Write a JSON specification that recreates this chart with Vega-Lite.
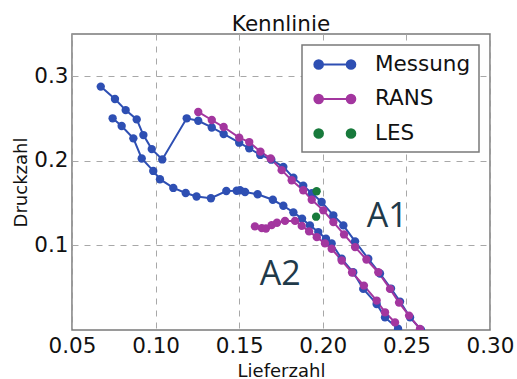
{
  "$schema": "https://vega.github.io/schema/vega-lite/v6.json",
  "width": 418,
  "height": 296,
  "autosize": "none",
  "padding": {"left": 72, "top": 34, "right": 27, "bottom": 49},
  "background": "white",
  "title": {"text": "Kennlinie", "fontSize": 21.5, "font": "DejaVu Sans", "fontWeight": "normal", "color": "#111111", "offset": 5, "dy": 23, "baseline": "alphabetic", "anchor": "middle", "frame": "group"},
  "datasets": {
    "curves": [
      {"s": "Messung", "c": "M1", "i": 1, "x": 0.0672, "y": 0.2878},
      {"s": "Messung", "c": "M1", "i": 2, "x": 0.0757, "y": 0.2732},
      {"s": "Messung", "c": "M1", "i": 3, "x": 0.0821, "y": 0.2600},
      {"s": "Messung", "c": "M1", "i": 4, "x": 0.0887, "y": 0.2490},
      {"s": "Messung", "c": "M1", "i": 5, "x": 0.0927, "y": 0.2305},
      {"s": "Messung", "c": "M1", "i": 6, "x": 0.0977, "y": 0.2139},
      {"s": "Messung", "c": "M1", "i": 7, "x": 0.1040, "y": 0.2017},
      {"s": "Messung", "c": "M1", "i": 8, "x": 0.1186, "y": 0.2503},
      {"s": "Messung", "c": "M1", "i": 9, "x": 0.1255, "y": 0.2474},
      {"s": "Messung", "c": "M1", "i": 10, "x": 0.1336, "y": 0.2395},
      {"s": "Messung", "c": "M1", "i": 11, "x": 0.1407, "y": 0.2318},
      {"s": "Messung", "c": "M1", "i": 12, "x": 0.1500, "y": 0.2215},
      {"s": "Messung", "c": "M1", "i": 13, "x": 0.1560, "y": 0.2149},
      {"s": "Messung", "c": "M1", "i": 14, "x": 0.1626, "y": 0.2070},
      {"s": "Messung", "c": "M1", "i": 15, "x": 0.1692, "y": 0.2014},
      {"s": "Messung", "c": "M1", "i": 16, "x": 0.1764, "y": 0.1929},
      {"s": "Messung", "c": "M1", "i": 17, "x": 0.1824, "y": 0.1800},
      {"s": "Messung", "c": "M1", "i": 18, "x": 0.1883, "y": 0.1706},
      {"s": "Messung", "c": "M1", "i": 19, "x": 0.1935, "y": 0.1617},
      {"s": "Messung", "c": "M1", "i": 20, "x": 0.1993, "y": 0.1514},
      {"s": "Messung", "c": "M1", "i": 21, "x": 0.2063, "y": 0.1356},
      {"s": "Messung", "c": "M1", "i": 22, "x": 0.2123, "y": 0.1237},
      {"s": "Messung", "c": "M1", "i": 23, "x": 0.2193, "y": 0.1048},
      {"s": "Messung", "c": "M1", "i": 24, "x": 0.2272, "y": 0.0842},
      {"s": "Messung", "c": "M1", "i": 25, "x": 0.2342, "y": 0.0668},
      {"s": "Messung", "c": "M1", "i": 26, "x": 0.2408, "y": 0.0490},
      {"s": "Messung", "c": "M1", "i": 27, "x": 0.2462, "y": 0.0336},
      {"s": "Messung", "c": "M1", "i": 28, "x": 0.2522, "y": 0.0149},
      {"s": "Messung", "c": "M1", "i": 29, "x": 0.2587, "y": 0.0004},
      {"s": "Messung", "c": "M2", "i": 1, "x": 0.0743, "y": 0.2503},
      {"s": "Messung", "c": "M2", "i": 2, "x": 0.0797, "y": 0.2412},
      {"s": "Messung", "c": "M2", "i": 3, "x": 0.0867, "y": 0.2266},
      {"s": "Messung", "c": "M2", "i": 4, "x": 0.0917, "y": 0.2028},
      {"s": "Messung", "c": "M2", "i": 5, "x": 0.0986, "y": 0.1881},
      {"s": "Messung", "c": "M2", "i": 6, "x": 0.1026, "y": 0.1783},
      {"s": "Messung", "c": "M2", "i": 7, "x": 0.1106, "y": 0.1680},
      {"s": "Messung", "c": "M2", "i": 8, "x": 0.1180, "y": 0.1620},
      {"s": "Messung", "c": "M2", "i": 9, "x": 0.1245, "y": 0.1578},
      {"s": "Messung", "c": "M2", "i": 10, "x": 0.1331, "y": 0.1558},
      {"s": "Messung", "c": "M2", "i": 11, "x": 0.1423, "y": 0.1643},
      {"s": "Messung", "c": "M2", "i": 12, "x": 0.1485, "y": 0.1646},
      {"s": "Messung", "c": "M2", "i": 13, "x": 0.1505, "y": 0.1652},
      {"s": "Messung", "c": "M2", "i": 14, "x": 0.1535, "y": 0.1632},
      {"s": "Messung", "c": "M2", "i": 15, "x": 0.1610, "y": 0.1605},
      {"s": "Messung", "c": "M2", "i": 16, "x": 0.1701, "y": 0.1540},
      {"s": "Messung", "c": "M2", "i": 17, "x": 0.1764, "y": 0.1469},
      {"s": "Messung", "c": "M2", "i": 18, "x": 0.1824, "y": 0.1391},
      {"s": "Messung", "c": "M2", "i": 19, "x": 0.1876, "y": 0.1317},
      {"s": "Messung", "c": "M2", "i": 20, "x": 0.1923, "y": 0.1237},
      {"s": "Messung", "c": "M2", "i": 21, "x": 0.1973, "y": 0.1158},
      {"s": "Messung", "c": "M2", "i": 22, "x": 0.2019, "y": 0.1080},
      {"s": "Messung", "c": "M2", "i": 23, "x": 0.2053, "y": 0.1024},
      {"s": "Messung", "c": "M2", "i": 24, "x": 0.2113, "y": 0.0842},
      {"s": "Messung", "c": "M2", "i": 25, "x": 0.2182, "y": 0.0683},
      {"s": "Messung", "c": "M2", "i": 26, "x": 0.2242, "y": 0.0486},
      {"s": "Messung", "c": "M2", "i": 27, "x": 0.2322, "y": 0.0308},
      {"s": "Messung", "c": "M2", "i": 28, "x": 0.2372, "y": 0.0149},
      {"s": "Messung", "c": "M2", "i": 29, "x": 0.2450, "y": 0.0015},
      {"s": "RANS", "c": "R1", "i": 1, "x": 0.1255, "y": 0.2578},
      {"s": "RANS", "c": "R1", "i": 2, "x": 0.1336, "y": 0.2483},
      {"s": "RANS", "c": "R1", "i": 3, "x": 0.1407, "y": 0.2400},
      {"s": "RANS", "c": "R1", "i": 4, "x": 0.1500, "y": 0.2275},
      {"s": "RANS", "c": "R1", "i": 5, "x": 0.1560, "y": 0.2222},
      {"s": "RANS", "c": "R1", "i": 6, "x": 0.1627, "y": 0.2109},
      {"s": "RANS", "c": "R1", "i": 7, "x": 0.1688, "y": 0.2028},
      {"s": "RANS", "c": "R1", "i": 8, "x": 0.1754, "y": 0.1890},
      {"s": "RANS", "c": "R1", "i": 9, "x": 0.1814, "y": 0.1771},
      {"s": "RANS", "c": "R1", "i": 10, "x": 0.1883, "y": 0.1652},
      {"s": "RANS", "c": "R1", "i": 11, "x": 0.1934, "y": 0.1540},
      {"s": "RANS", "c": "R1", "i": 12, "x": 0.2003, "y": 0.1415},
      {"s": "RANS", "c": "R1", "i": 13, "x": 0.2063, "y": 0.1276},
      {"s": "RANS", "c": "R1", "i": 14, "x": 0.2127, "y": 0.1130},
      {"s": "RANS", "c": "R1", "i": 15, "x": 0.2193, "y": 0.0980},
      {"s": "RANS", "c": "R1", "i": 16, "x": 0.2261, "y": 0.0834},
      {"s": "RANS", "c": "R1", "i": 17, "x": 0.2332, "y": 0.0683},
      {"s": "RANS", "c": "R1", "i": 18, "x": 0.2402, "y": 0.0486},
      {"s": "RANS", "c": "R1", "i": 19, "x": 0.2456, "y": 0.0324},
      {"s": "RANS", "c": "R1", "i": 20, "x": 0.2516, "y": 0.0170},
      {"s": "RANS", "c": "R1", "i": 21, "x": 0.2581, "y": 0.0012},
      {"s": "RANS", "c": "R2", "i": 1, "x": 0.1594, "y": 0.1225},
      {"s": "RANS", "c": "R2", "i": 2, "x": 0.1635, "y": 0.1205},
      {"s": "RANS", "c": "R2", "i": 3, "x": 0.1660, "y": 0.1200},
      {"s": "RANS", "c": "R2", "i": 4, "x": 0.1694, "y": 0.1240},
      {"s": "RANS", "c": "R2", "i": 5, "x": 0.1726, "y": 0.1268},
      {"s": "RANS", "c": "R2", "i": 6, "x": 0.1774, "y": 0.1290},
      {"s": "RANS", "c": "R2", "i": 7, "x": 0.1834, "y": 0.1290},
      {"s": "RANS", "c": "R2", "i": 8, "x": 0.1874, "y": 0.1231},
      {"s": "RANS", "c": "R2", "i": 9, "x": 0.1918, "y": 0.1166},
      {"s": "RANS", "c": "R2", "i": 10, "x": 0.1964, "y": 0.1098},
      {"s": "RANS", "c": "R2", "i": 11, "x": 0.2013, "y": 0.1024},
      {"s": "RANS", "c": "R2", "i": 12, "x": 0.2053, "y": 0.0961},
      {"s": "RANS", "c": "R2", "i": 13, "x": 0.2113, "y": 0.0822},
      {"s": "RANS", "c": "R2", "i": 14, "x": 0.2175, "y": 0.0680},
      {"s": "RANS", "c": "R2", "i": 15, "x": 0.2246, "y": 0.0525},
      {"s": "RANS", "c": "R2", "i": 16, "x": 0.2322, "y": 0.0348},
      {"s": "RANS", "c": "R2", "i": 17, "x": 0.2372, "y": 0.0209},
      {"s": "RANS", "c": "R2", "i": 18, "x": 0.2432, "y": 0.0090},
      {"s": "LES", "c": "L", "i": 1, "x": 0.1963, "y": 0.1640},
      {"s": "LES", "c": "L", "i": 2, "x": 0.1960, "y": 0.1340}
    ],
    "labels": [
      {"x": 0.2385, "y": 0.1217, "t": "A1"},
      {"x": 0.1745, "y": 0.0535, "t": "A2"}
    ]
  },
  "layer": [
    {
      "data": {"name": "curves"},
      "transform": [{"filter": "datum.s !== 'LES'"}],
      "mark": {"type": "line", "strokeWidth": 2, "clip": true},
      "encoding": {
        "x": {"field": "x", "type": "quantitative", "scale": {"domain": [0.05, 0.3], "nice": false, "zero": false},
              "axis": {"title": "Lieferzahl", "values": [0.05, 0.1, 0.15, 0.2, 0.25, 0.3], "format": ".2f", "labelPadding": 5, "labelFlush": false, "labelOverlap": false, "labelBound": false, "titleY": 46, "titleBaseline": "alphabetic"}},
        "y": {"field": "y", "type": "quantitative", "scale": {"domain": [0, 0.35], "nice": false, "zero": false},
              "axis": {"title": "Druckzahl", "values": [0.1, 0.2, 0.3], "format": ".1f", "labelPadding": 4, "titleX": -45.3, "titleY": 148, "titleAngle": 270, "titleBaseline": "alphabetic", "titleAlign": "center"}},
        "color": {"field": "s", "type": "nominal",
                  "scale": {"domain": ["Messung", "RANS", "LES"], "range": ["#2e4fb3", "#a3369f", "#187a3c"]},
                  "legend": {
                    "title": null, "orient": "none", "legendX": 230, "legendY": 11,
                    "fillColor": "white", "strokeColor": "#7a7a7a", "padding": 8, "rowPadding": 12.5,
                    "labelFontSize": 21.5, "labelFont": "DejaVu Sans", "labelColor": "#111111", "labelOffset": 42,
                    "symbolSize": 441, "symbolStrokeWidth": 2,
                    "encode": {
                      "legend": {"update": {"strokeWidth": {"value": 1.5}}},
                      "symbols": {"update": {
                        "shape": {"signal": "datum.value === 'LES' ? 'M-0.68,0A0.41,0.41,0,1,0,0.14,0A0.41,0.41,0,1,0,-0.68,0ZM2.4,0A0.41,0.41,0,1,0,3.22,0A0.41,0.41,0,1,0,2.4,0Z' : 'M-0.27,0L2.81,0M-0.68,0A0.41,0.41,0,1,0,0.14,0A0.41,0.41,0,1,0,-0.68,0ZM2.4,0A0.41,0.41,0,1,0,3.22,0A0.41,0.41,0,1,0,2.4,0Z'"},
                        "stroke": {"signal": "scale('color', datum.value)"},
                        "fill": {"signal": "scale('color', datum.value)"},
                        "strokeWidth": {"value": 2},
                        "opacity": {"value": 1},
                        "fillOpacity": {"value": 1},
                        "strokeOpacity": {"value": 1}
                      }}
                    }
                  }},
        "detail": {"field": "c", "type": "nominal"},
        "order": {"field": "i", "type": "quantitative"}
      }
    },
    {
      "data": {"name": "curves"},
      "mark": {"type": "point", "filled": true, "size": 70, "opacity": 1, "clip": true},
      "encoding": {
        "x": {"field": "x", "type": "quantitative"},
        "y": {"field": "y", "type": "quantitative"},
        "color": {"field": "s", "type": "nominal"}
      }
    },
    {
      "data": {"name": "labels"},
      "mark": {"type": "text", "font": "Open Sans", "fontSize": 34, "color": "#1f3a4a", "align": "center", "baseline": "alphabetic"},
      "encoding": {
        "x": {"field": "x", "type": "quantitative"},
        "y": {"field": "y", "type": "quantitative"},
        "text": {"field": "t", "type": "nominal"}
      }
    }
  ],
  "config": {
    "font": "DejaVu Sans",
    "view": {"stroke": "#7a7a7a", "strokeWidth": 1.5},
    "axis": {"grid": true, "gridColor": "#a8a8a8", "gridDash": [6, 6], "gridWidth": 1, "domain": false, "ticks": false,
             "labelFont": "DejaVu Sans", "labelFontSize": 21.5, "labelColor": "#111111",
             "titleFont": "DejaVu Sans", "titleFontSize": 18, "titleFontWeight": "normal", "titleColor": "#111111"}
  }
}
